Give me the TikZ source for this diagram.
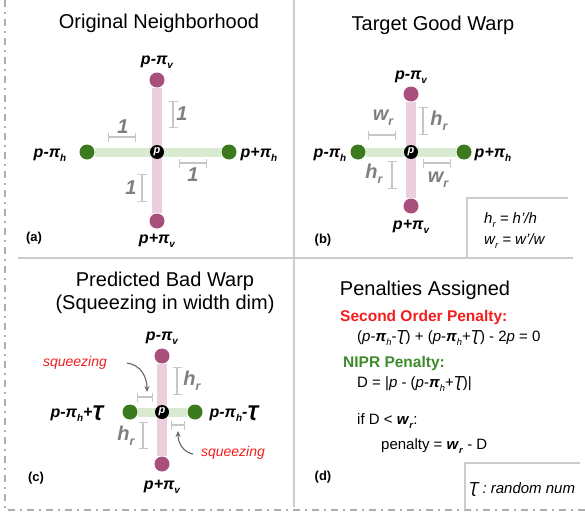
\documentclass[tikz,border=0pt]{standalone}
\usepackage{fontspec}
\usepackage{graphicx}
\setmainfont{Liberation Sans}
\newfontfamily\dejavu{DejaVu Sans}
\usetikzlibrary{arrows.meta,backgrounds}

\definecolor{pinkdot}{HTML}{A84F7C}
\definecolor{pinkbar}{HTML}{EBCFDC}
\definecolor{greendot}{HTML}{3B7A1F}
\definecolor{greenbar}{HTML}{D8EBD0}
\definecolor{sepgray}{HTML}{CCCCCC}
\definecolor{dimgray}{HTML}{C6C6C6}
\definecolor{dimtext}{HTML}{7F7F7F}
\definecolor{warnred}{HTML}{F21D1D}
\definecolor{nipr}{HTML}{3E8A2C}

\newcommand\fs[1]{\fontsize{#1}{#1}\selectfont}
\newcommand\lsub[1]{\raisebox{-0.45ex}{\scalebox{0.62}{#1}}}
\newcommand\bpi{\textbf{\textit{π}}}
\newcommand\tT{{\dejavu\itshape Ʈ}}
\newcommand\bl[1]{\textbf{\textit{#1}}}

\tikzset{
  vdot/.style={circle,fill=pinkdot,minimum size=15pt,inner sep=0pt},
  hdot/.style={circle,fill=greendot,minimum size=15pt,inner sep=0pt},
  pnode/.style={circle,fill=black,minimum size=14pt,inner sep=0pt,text=white,font=\fs{11}\bfseries\itshape},
  vbar/.style={draw=pinkbar,line width=10pt},
  hbar/.style={draw=greenbar,line width=9pt},
  lbl/.style={font=\fs{16}\bfseries\itshape,inner sep=0pt},
  ttl/.style={font=\fs{20},inner sep=0pt},
  tag/.style={font=\fs{13}\bfseries,inner sep=0pt},
  dimbar/.style={draw=dimgray,line width=1.3pt,{Bar[width=9pt]}-{Bar[width=9pt]}},
  dimlbl/.style={font=\fs{20}\bfseries\itshape,text=dimtext,inner sep=0pt},
  sep/.style={draw=sepgray,line width=2.5pt},
  frame/.style={draw=sepgray!85!black,line width=2pt,dash pattern=on 7pt off 5pt on 2pt off 5pt},
  sq/.style={font=\fs{14}\itshape,text=warnred,inner sep=0pt},
  sqarrow/.style={draw=black!60,line width=1.1pt,-{Stealth[length=6pt,width=5pt]}},
  txt/.style={font=\fs{15},inner sep=0pt,anchor=west},
}

\begin{document}
\begin{tikzpicture}[x=1pt,y=-1pt]
\useasboundingbox (0,0) rectangle (585,519);

% outer dash-dot frame and panel separators
\draw[frame] (5,0) -- (5,510) -- (585,510);
\draw[sep] (18,258) -- (573,258);
\draw[sep] (294,0) -- (294,507);

% ---------- (a) Original Neighborhood ----------
\node[ttl] (ta) at (159,23) {Original Neighborhood};
\node[pnode] (pa) at (157,152) {p};
\node[vdot] (ua) at (157,80) {};
\node[vdot] (da) at (157,221) {};
\node[hdot] (la) at (87,152) {};
\node[hdot] (ra) at (229,152) {};
\begin{scope}[on background layer]
  \draw[vbar] (ua) -- (da);
  \draw[hbar] (la) -- (ra);
\end{scope}
\node[lbl] (ual) at (157,62) {p-\bpi\lsub{v}};
\node[lbl] (dal) at (157,241) {p+\bpi\lsub{v}};
\node[lbl] (lal) at (50,155) {p-\bpi\lsub{h}};
\node[lbl] (ral) at (259,155) {p+\bpi\lsub{h}};
\draw[dimbar] (173,101) -- (173,128);
\node[dimlbl] (a1) at (182,114) {1};
\draw[dimbar] (108,137) -- (136,137);
\node[dimlbl] (a2) at (123,127) {1};
\draw[dimbar] (179,163) -- (207,163);
\node[dimlbl] (a3) at (193,175) {1};
\draw[dimbar] (142,174) -- (142,202);
\node[dimlbl] (a4) at (131,188) {1};
\node[tag] (tga) at (34,238) {(a)};

% ---------- (b) Target Good Warp ----------
\node[ttl] (tb) at (433,25) {Target Good Warp};
\node[pnode] (pb) at (411,152) {p};
\node[vdot] (ub) at (411,94) {};
\node[vdot] (db) at (411,206) {};
\node[hdot] (lb) at (358,152) {};
\node[hdot] (rb) at (464,152) {};
\begin{scope}[on background layer]
  \draw[vbar] (ub) -- (db);
  \draw[hbar] (lb) -- (rb);
\end{scope}
\node[lbl] (ubl) at (411,77) {p-\bpi\lsub{v}};
\node[lbl] (dbl) at (411,227) {p+\bpi\lsub{v}};
\node[lbl] (lbl) at (330,155) {p-\bpi\lsub{h}};
\node[lbl] (rbl) at (493,155) {p+\bpi\lsub{h}};
\draw[dimbar] (423,107) -- (423,135);
\node[dimlbl] (b1) at (439,121) {h\lsub{r}};
\draw[dimbar] (368,135) -- (396,135);
\node[dimlbl] (b2) at (383,118) {w\lsub{r}};
\draw[dimbar] (392,161) -- (392,189);
\node[dimlbl] (b3) at (374,174) {h\lsub{r}};
\draw[dimbar] (423,163) -- (451,163);
\node[dimlbl] (b4) at (438,180) {w\lsub{r}};
\node[tag] (tgb) at (323,240) {(b)};
\draw[sep] (467,258) -- (467,198) -- (568,198);
\node[txt,font=\fs{15}\itshape] (hr) at (484,220) {h\lsub{r} = h’/h};
\node[txt,font=\fs{15}\itshape] (wr) at (484,241) {w\lsub{r} = w’/w};

% ---------- (c) Predicted Bad Warp ----------
\node[ttl,align=center] (tc) at (165,293) {Predicted Bad Warp\\[3pt](Squeezing in width dim)};
\node[pnode] (pc) at (162,412) {p};
\node[vdot] (uc) at (162,356) {};
\node[vdot] (dc) at (162,464) {};
\node[hdot] (lc) at (130,412) {};
\node[hdot] (rc) at (195,412) {};
\begin{scope}[on background layer]
  \draw[vbar] (uc) -- (dc);
  \draw[hbar] (lc) -- (rc);
\end{scope}
\node[lbl] (ucl) at (162,338) {p-\bpi\lsub{v}};
\node[lbl] (dcl) at (162,487) {p+\bpi\lsub{v}};
\node[lbl] (lcl) at (77,414) {p-\bpi\lsub{h}+\tT};
\node[lbl] (rcl) at (234,414) {p-\bpi\lsub{h}-\tT};
\draw[dimbar] (177,367) -- (177,395);
\node[dimlbl] (c1) at (192,381) {h\lsub{r}};
\draw[dimbar] (137,397) -- (153,397);
\draw[dimbar] (143,422) -- (143,449);
\node[dimlbl] (c2) at (126,436) {h\lsub{r}};
\draw[dimbar] (171,425) -- (185,425);
\node[sq] (sq1) at (75,363) {squeezing};
\node[sq] (sq2) at (233,453) {squeezing};
\coordinate (s1a) at (127,363);
\coordinate (s1b) at (147,392);
\coordinate (s2a) at (193,454);
\coordinate (s2b) at (178,431);
\draw[sqarrow] (s1a) .. controls (141,365) and (147,377) .. (s1b);
\draw[sqarrow] (s2a) .. controls (183,452) and (178,443) .. (s2b);
\node[tag] (tgc) at (36,478) {(c)};

% ---------- (d) Penalties Assigned ----------
\node[ttl] (td) at (425,290) {Penalties Assigned};
\node[txt,font=\fs{15.5}\bfseries,text=warnred] (so) at (340,317) {Second Order Penalty:};
\node[txt] (eq1) at (357,338) {(\textit{p}-\bpi\lsub{\textit{h}}-\tT) + (\textit{p}-\bpi\lsub{\textit{h}}+\tT) - 2\textit{p} = 0};
\node[txt,font=\fs{15.5}\bfseries,text=nipr] (np) at (343,363) {NIPR Penalty:};
\node[txt] (eq2) at (357,384) {D = |\textit{p} - (\textit{p}-\bpi\lsub{\textit{h}}+\tT)|};
\node[txt] (eq3) at (357,421) {if D < \bl{w}\lsub{\bl{r}}:};
\node[txt] (eq4) at (381,446) {penalty = \bl{w}\lsub{\bl{r}} - D};
\node[tag] (tgd) at (323,477) {(d)};
\draw[sep] (465,510) -- (465,463) -- (580,463);
\node[txt,font=\fs{15}\itshape] (rn) at (469,490) {\tT\ : random num};
\end{tikzpicture}
\end{document}
